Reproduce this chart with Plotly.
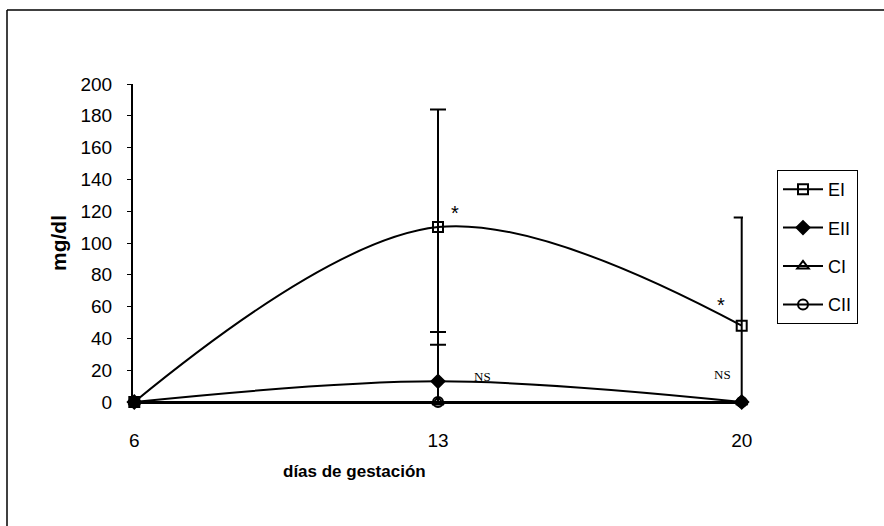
import plotly.graph_objects as go

# Gestation days and mean glucose-like values (mg/dl) per group
dias = [6, 13, 20]
series = ["EI", "EII", "CI", "CII"]
ei = [0, 110, 48]
eii = [0, 13, 0]
ci = [0, 0, 0]
cii = [0, 0, 0]
ei_err_plus = [0, 74, 68]
ei_err_minus = [0, 74, 48]
eii_err = [0, 31, 0]

symbols = {"EI": "square-open", "EII": "diamond", "CI": "triangle-up-open", "CII": "circle-open"}
values = {"EI": ei, "EII": eii, "CI": ci, "CII": cii}

W, H = 884, 526
L, R, T, B = 133, 141, 84, 124
pw, ph = W - L - R, H - T - B
FONT = "Liberation Sans, Arial"


def px(x):
    return (x - L) / pw


def py(y):
    return (H - B - y) / ph


fig = go.Figure()
for name in series:
    err = None
    if name == "EI":
        err = dict(type="data", array=ei_err_plus, arrayminus=ei_err_minus, symmetric=False,
                   color="black", thickness=2, width=8)
    elif name == "EII":
        err = dict(type="data", array=eii_err, arrayminus=eii_err, symmetric=False,
                   color="black", thickness=2, width=8)
    fig.add_trace(go.Scatter(
        x=dias, y=values[name], name=name, mode="lines+markers",
        line=dict(color="black", width=2, shape="spline", smoothing=1),
        marker=dict(symbol=symbols[name], size=10, color="black",
                    line=dict(color="black", width=2)),
        error_y=err, cliponaxis=False, legendgroup=name,
    ))

fig.update_layout(
    width=W, height=H,
    margin=dict(l=L, r=R, t=T, b=B),
    paper_bgcolor="white", plot_bgcolor="white",
    font=dict(family=FONT, size=19, color="black"),
    showlegend=True,
    legend=dict(x=px(777), y=py(170), xanchor="left", yanchor="top",
                bordercolor="black", borderwidth=1, bgcolor="white",
                font=dict(size=18), traceorder="grouped", tracegroupgap=12,
                itemwidth=40),
    xaxis=dict(range=[5.97, 20.03], tickvals=dias, ticktext=[str(d) for d in dias],
               showgrid=False, zeroline=False, showline=True, linecolor="black",
               linewidth=2, ticks="", ticklabelstandoff=20),
    yaxis=dict(range=[0, 200], dtick=20, showgrid=False, zeroline=False,
               showline=True, linecolor="black", linewidth=2, ticks="outside",
               ticklen=4, tickwidth=1, tickcolor="black", ticklabelstandoff=11),
)

# Axis titles
fig.add_annotation(text="<b>mg/dl</b>", xref="paper", yref="paper",
                   x=px(58), y=py(243), xanchor="center", yanchor="middle",
                   showarrow=False, textangle=-90, font=dict(size=21))
fig.add_annotation(text="<b>días de gestación</b>", xref="paper", yref="paper",
                   x=px(354), y=py(471), xanchor="center", yanchor="middle",
                   showarrow=False, font=dict(size=17))

# Significance marks
for x, y, t, f in [(13.39, 119, "*", dict(size=20, family=FONT)),
                   (19.52, 61, "*", dict(size=20, family=FONT)),
                   (14.03, 16, "NS", dict(size=13, family="Liberation Serif, Times New Roman")),
                   (19.56, 17, "NS", dict(size=13, family="Liberation Serif, Times New Roman"))]:
    fig.add_annotation(text=t, x=x, y=y, xref="x", yref="y", showarrow=False, font=f)

# Outer frame (top and left edges)
fig.add_shape(type="line", xref="paper", yref="paper", x0=px(7), x1=px(W + 5),
              y0=py(10), y1=py(10), line=dict(color="black", width=1.5))
fig.add_shape(type="line", xref="paper", yref="paper", x0=px(7), x1=px(7),
              y0=py(10), y1=py(H + 5), line=dict(color="black", width=1.5))

fig.write_html("out.html")
